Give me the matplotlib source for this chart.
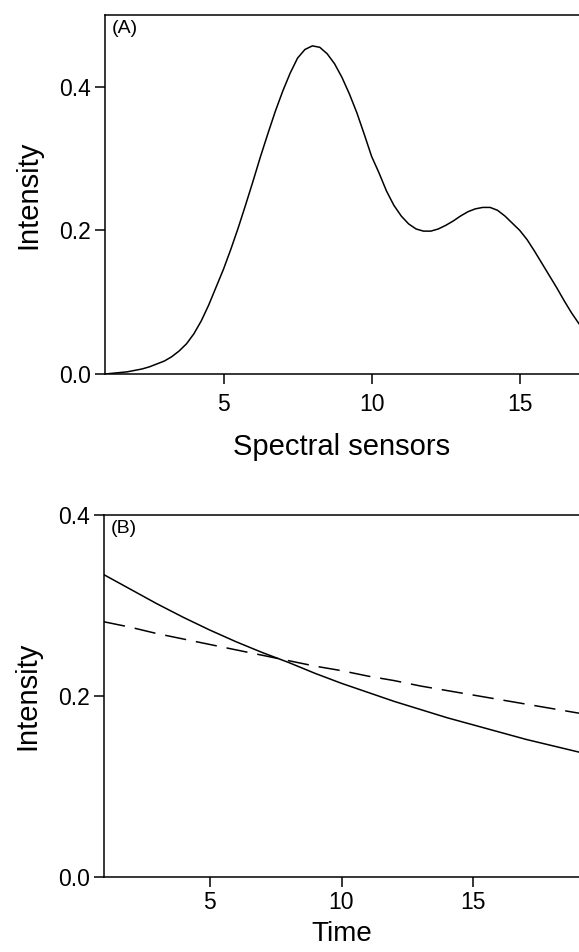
import numpy as np
import matplotlib
matplotlib.use("Agg")
import matplotlib.pyplot as plt

plt.rcParams['font.family'] = ['Liberation Sans', 'DejaVu Sans']

# panel A: spectrum over the sensors
sensor_x = [1.00, 1.25, 1.50, 1.75, 2.00, 2.25, 2.50, 2.75, 3.00, 3.25, 3.50,
            3.75, 4.00, 4.25, 4.50, 4.75, 5.00, 5.25, 5.50, 5.75, 6.00, 6.25,
            6.50, 6.75, 7.00, 7.25, 7.50, 7.75, 8.00, 8.25, 8.50, 8.75, 9.00,
            9.25, 9.50, 9.75, 10.00, 10.25, 10.50, 10.75, 11.00, 11.25,
            11.50, 11.75, 12.00, 12.25, 12.50, 12.75, 13.00, 13.25, 13.50,
            13.75, 14.00, 14.25, 14.50, 14.75, 15.00, 15.25, 15.50, 15.75,
            16.00, 16.25, 16.50, 16.75, 17.00]
spectrum = [0.000, 0.001, 0.002, 0.003, 0.005, 0.007, 0.010, 0.014, 0.018,
            0.024, 0.032, 0.042, 0.056, 0.074, 0.096, 0.121, 0.146, 0.174,
            0.204, 0.236, 0.269, 0.303, 0.335, 0.366, 0.394, 0.419, 0.440,
            0.452, 0.457, 0.455, 0.446, 0.432, 0.413, 0.390, 0.364, 0.334,
            0.303, 0.280, 0.255, 0.235, 0.220, 0.209, 0.202, 0.199, 0.199,
            0.202, 0.207, 0.213, 0.220, 0.226, 0.230, 0.232, 0.232, 0.228,
            0.220, 0.210, 0.200, 0.187, 0.171, 0.154, 0.137, 0.120, 0.102,
            0.085, 0.070]

# panel B: two decays over time
time_x = list(range(1, 20))
decay_solid = [0.334, 0.318, 0.302, 0.287, 0.273, 0.260, 0.248, 0.237, 0.225,
               0.214, 0.204, 0.194, 0.185, 0.176, 0.168, 0.160, 0.152, 0.145,
               0.138]
decay_dashed = [0.282, 0.276, 0.269, 0.263, 0.257, 0.251, 0.245, 0.239, 0.233,
                0.228, 0.222, 0.217, 0.211, 0.206, 0.201, 0.196, 0.191, 0.186,
                0.181]

W, H = 579, 952
fig = plt.figure(figsize=(W / 100, H / 100), dpi=100)

def px_axes(left, top, right, bottom):
    return fig.add_axes([left / W, 1 - bottom / H, (right - left) / W,
                         (bottom - top) / H])

def style(ax, tickpad):
    ax.spines['right'].set_visible(False)
    for s in ('left', 'bottom', 'top'):
        ax.spines[s].set_linewidth(1.1)
    ax.tick_params(direction='out', length=7, width=1.1, labelsize=16.5,
                   top=False, right=False)
    ax.tick_params(axis='x', pad=tickpad)
    ax.tick_params(axis='y', pad=3)

axA = px_axes(105, 15, 579, 374)
axA.plot(sensor_x, spectrum, color='black', lw=1.1)
axA.set_xlim(1, 17)
axA.set_ylim(0, 0.5)
axA.set_xticks([5, 10, 15])
axA.set_yticks([0.0, 0.2, 0.4])
axA.set_yticklabels(['0.0', '0.2', '0.4'])
axA.set_xlabel('Spectral sensors', fontsize=21, labelpad=12)
axA.set_ylabel('Intensity', fontsize=21, labelpad=12)
axA.text(0.014, 0.985, '(A)', transform=axA.transAxes, fontsize=14,
         va='top', ha='left')
style(axA, 7)

axB = px_axes(104, 515, 579, 877)
axB.plot(time_x, decay_solid, color='black', lw=1.1)
axB.plot(time_x, decay_dashed, color='black', lw=1.1,
         linestyle=(0, (14, 6.5)))
axB.set_xlim(1, 19)
axB.set_ylim(0, 0.4)
axB.set_xticks([5, 10, 15])
axB.set_yticks([0.0, 0.2, 0.4])
axB.set_yticklabels(['0.0', '0.2', '0.4'])
axB.set_xlabel('Time', fontsize=20, labelpad=5)
axB.set_ylabel('Intensity', fontsize=21, labelpad=12)
axB.text(0.014, 0.985, '(B)', transform=axB.transAxes, fontsize=14,
         va='top', ha='left')
style(axB, 3)

fig.savefig('out.png', dpi=100)
